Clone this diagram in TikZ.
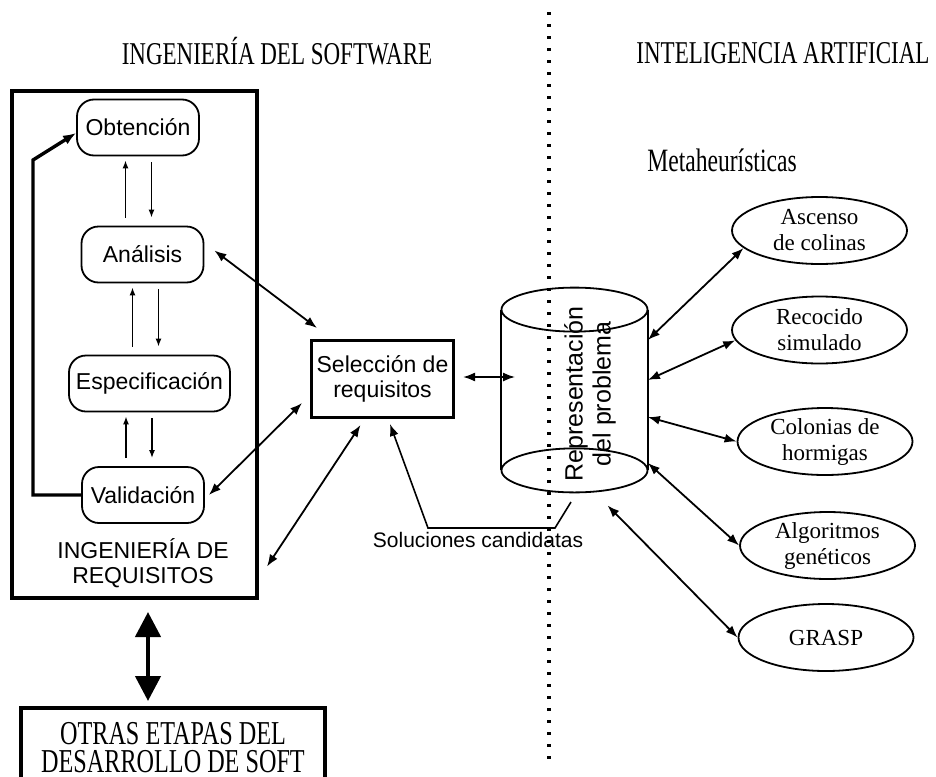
\documentclass[tikz,border=0pt]{standalone}
\usepackage{fontspec}
\setmainfont{Liberation Serif}
\setsansfont{Liberation Sans}
\usetikzlibrary{arrows.meta,shapes.geometric}
\newcommand{\alto}[1]{\scalebox{1}[1.38]{#1}}
\tikzstyle{textosans}=[font=\sffamily\fontsize{11.5}{12.5}\selectfont]
\tikzstyle{titulo}=[font=\fontsize{11.5}{13}\selectfont, inner sep=0pt]
\tikzstyle{fase}=[draw, rounded corners=8.5pt, line width=0.9pt, minimum width=61pt, minimum height=28pt, inner xsep=3.5pt, textosans]
\tikzstyle{caja}=[draw, line width=2pt, inner sep=0pt]
\tikzstyle{metaheuristica}=[draw, ellipse, line width=0.9pt, minimum width=87.5pt, minimum height=33.5pt, inner sep=0pt, align=center, font=\fontsize{11.5}{13}\selectfont]
\tikzstyle{cilindro}=[draw, line width=0.9pt]
\tikzstyle{flechita}=[-{Latex[length=4pt,width=3pt]}, line width=0.7pt]
\tikzstyle{flecha}=[-{Latex[length=6pt,width=4.5pt]}, line width=0.8pt]
\tikzstyle{doble}=[{Latex[length=6pt,width=4.5pt]}-{Latex[length=6pt,width=4.5pt]}, line width=0.9pt]
\tikzstyle{retorno}=[-{Latex[length=6.5pt,width=5pt]}, line width=1.7pt]
\tikzstyle{grueso}=[{Triangle[length=12.5pt,width=12.5pt]}-{Triangle[length=12.5pt,width=12.5pt]}, line width=2.2pt]
\tikzstyle{punteada}=[draw, line width=1.6pt, dash pattern=on 1.6pt off 4.4pt]

\begin{document}
\begin{tikzpicture}[x=0.5pt, y=-0.5pt]
    \useasboundingbox (0,0) rectangle (936,776);

    % titulos
    \node[titulo] (tis) at (277,51) {\alto{INGENIERÍA DEL SOFTWARE}};
    \node[titulo] (tia) at (783,53) {\alto{INTELIGENCIA ARTIFICIAL}};
    \node[titulo, font=\fontsize{11.8}{13}\selectfont] (tmh) at (722,160) {\alto{Metaheurísticas}};

    \coordinate (dtop) at (549,12);
    \coordinate (dbot) at (549,762);
    \path[punteada] (dtop) -- (dbot);

    % ingenieria de requisitos
    \node[caja, minimum width=122.5pt, minimum height=253.5pt] (ir) at (134.5,344.5) {};
    \foreach \pos/\name/\txt in {{(138,127.5)/obt/Obtención}, {(142.5,254.5)/ana/Análisis},
                                 {(149.5,383.5)/esp/Especificación}, {(143,495)/val/Validación}}
        \node[fase] (\name) at \pos {\txt};
    \node[textosans, align=center] (irt) at (143,563) {INGENIERÍA DE\\REQUISITOS};

    \foreach \a/\b in {obt/ana, ana/esp, esp/val}{
        \draw[flechita, shorten <=4pt, shorten >=2pt] ([xshift=-8.5pt]\b.north) -- ([xshift=-8.5pt]\b.north |- \a.south);
        \draw[flechita, shorten <=3pt, shorten >=4pt] ([xshift=4.5pt]\b.north |- \a.south) -- ([xshift=4.5pt]\b.north);
    }

    \coordinate (fb) at (33,160);
    \draw[retorno] (val.west) -| (fb) -- ([yshift=-2.75pt]obt.west);

    \node[caja, minimum width=152pt, minimum height=40pt, align=center, font=\fontsize{12.1}{14}\selectfont] (otras) at (173,748)
        {\alto{OTRAS ETAPAS DEL}\\\alto{DESARROLLO DE SOFT}};
    \draw[grueso, shorten <=6pt, shorten >=2.5pt] ([xshift=6.75pt]ir.south) -- ([xshift=6.75pt]ir.south |- otras.north);

    % seleccion
    \node[caja, line width=1.7pt, minimum width=70.8pt, minimum height=38.3pt, align=center, textosans] (sel) at (382.5,379)
        {Selección de\\requisitos};
    \draw[doble] ([xshift=5pt,yshift=2pt]ana.east) -- ([xshift=3.5pt,yshift=5.5pt]sel.north west);
    \draw[doble] ([xshift=2pt]val.east) -- ([xshift=-4pt,yshift=-12pt]sel.west);
    \draw[doble] ([xshift=4pt,yshift=-111pt]ir.east) -- ([xshift=-11pt,yshift=-3pt]sel.south);

    % representacion
    \node[minimum width=73pt, minimum height=80pt, inner sep=0pt] (rep) at (574.5,390) {};
    \draw[cilindro] (rep.north) ellipse [x radius=36.5pt, y radius=11pt];
    \draw[cilindro] (rep.south) ellipse [x radius=36.5pt, y radius=11pt];
    \draw[cilindro] (rep.north west) -- (rep.south west) (rep.north east) -- (rep.south east);
    \node[textosans, font=\sffamily\fontsize{12.5}{14}\selectfont, rotate=90, align=center] (rept) at (590,394)
        {Representación\\del problema};
    \draw[doble] ([xshift=4pt,yshift=1pt]sel.east) -- ([xshift=7pt,yshift=6.5pt]rep.west);

    \node[textosans, font=\sffamily\fontsize{10.5}{12}\selectfont] (sol) at (478,540) {Soluciones candidatas};
    \coordinate (s1) at (571,502);
    \coordinate (s2) at (555,528);
    \coordinate (s3) at (428,528);
    \draw[flecha] (s1) -- (s2) -- (s3) -- ([xshift=3.75pt,yshift=-2.5pt]sel.south);

    % metaheuristicas
    \foreach \pos/\name/\txt in {{(819.5,230.5)/asc/Ascenso\\de colinas}, {(819.5,330)/rec/Recocido\\simulado},
                                 {(825,441.5)/col/Colonias de\\hormigas}, {(827.5,545.5)/alg/Algoritmos\\genéticos},
                                 {(826,637.5)/grasp/GRASP}}
        \node[metaheuristica] (\name) at \pos {\txt};

    \foreach \dy/\dest in {25pt/asc.193, 5pt/rec.187, -13.5pt/col.west, -36.5pt/alg.west}
        \draw[doble] ([yshift=\dy]rep.east) -- (\dest);
    \draw[doble] ([xshift=16.5pt,yshift=-17.5pt]rep.south) -- (grasp.west);

\end{tikzpicture}
\end{document}
